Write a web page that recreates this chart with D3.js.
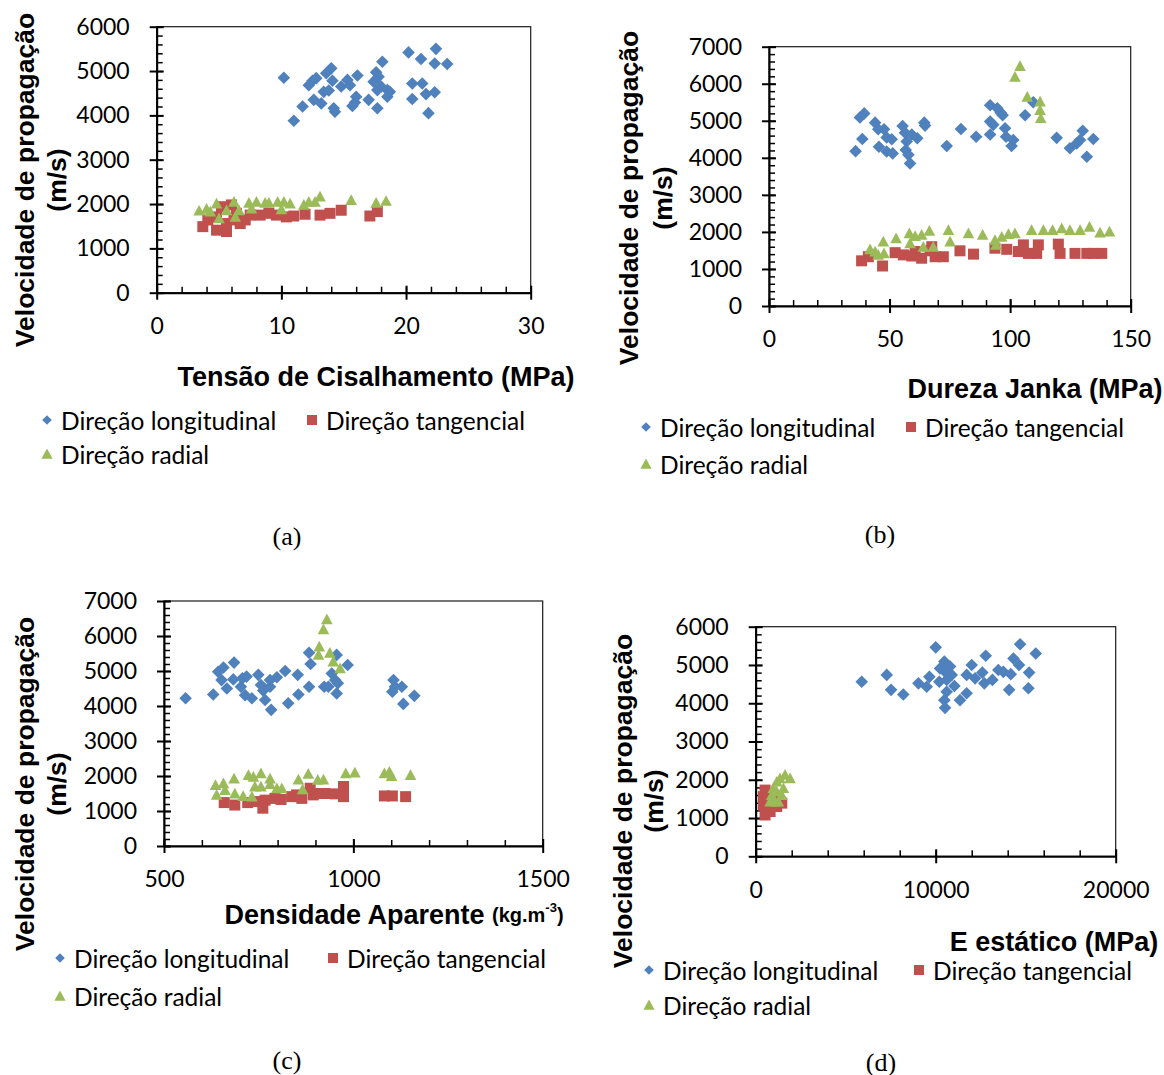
<!DOCTYPE html>
<html>
<head>
<meta charset="utf-8">
<script src="https://d3js.org/d3.v7.min.js"></script>
<style>
  body { margin: 0; background: #fff; }
  svg { display: block; }
</style>
</head>
<body>
<script>
// velocity (m/s) against four wood properties, three directions each

// (a) shear strength, MPa
const shearLong = [[10.2,4850],[11.0,3880],[11.7,4200],[12.2,4680],[12.5,4780],[12.8,4840],[12.6,4350],[13.2,4270],[13.4,4530],[13.8,4560],[13.6,4950],[14.0,5060],[14.1,4780],[14.2,4160],[14.3,4080],[14.8,4650],[15.3,4800],[15.5,4680],[16.1,4900],[16.0,4420],[15.7,4210],[15.9,4290],[17.0,4350],[17.4,4760],[17.6,4970],[17.8,4870],[18.1,5210],[17.7,4160],[18.0,4650],[18.5,4570],[18.7,4530],[18.5,4420],[17.7,4570],[20.2,5420],[20.5,4720],[20.5,4370],[21.2,5270],[21.3,4720],[21.6,4480],[21.8,4050],[22.3,5170],[22.4,5500],[22.3,4520],[23.3,5160]];
const shearTang = [[3.7,1490],[4.1,1640],[4.8,1410],[5.6,1380],[4.8,1710],[5.2,1940],[5.6,1560],[6.0,1980],[6.2,1640],[6.7,1560],[7.1,1640],[6.4,1790],[7.5,1750],[8.3,1750],[9.0,1790],[9.6,1750],[10.4,1710],[11.0,1730],[11.9,1770],[13.1,1750],[13.9,1790],[14.8,1860],[17.1,1730],[17.7,1830]];
const shearRad = [[3.4,1850],[4.0,1890],[4.3,1830],[4.8,2010],[5.0,1680],[5.6,1860],[6.2,2050],[6.3,1710],[6.6,1860],[7.4,2030],[7.6,1900],[8.0,2050],[8.7,2030],[9.0,2030],[9.7,2050],[10.0,1880],[10.2,2050],[10.7,2010],[11.8,1980],[12.2,2050],[12.7,2050],[13.1,2170],[15.6,2090],[17.6,2030],[18.4,2070]];

// (b) Janka hardness, MPa
const jankaLong = [[35.9,4180],[37.7,5090],[39.5,5200],[38.7,4510],[44.0,4950],[45.3,4770],[45.6,4300],[47.7,4770],[48.8,4550],[48.8,4170],[50.9,4500],[51.3,4120],[55.4,4860],[56.4,4680],[57.1,4440],[56.7,4210],[57.8,4080],[58.5,3850],[59.2,4630],[61.5,4530],[64.4,4950],[64.7,4870],[73.7,4320],[79.6,4780],[85.9,4570],[91.7,5420],[91.7,4980],[91.7,4630],[93.0,4890],[94.7,5340],[96.1,5220],[96.9,5150],[97.9,4800],[98.3,4570],[101.3,4480],[100.6,4320],[106.2,5150],[109.6,5500],[119.3,4540],[124.8,4260],[127.6,4390],[130.1,4730],[129.0,4480],[131.8,4030],[134.5,4510]];
const jankaTang = [[38.4,1220],[41.2,1330],[47.1,1080],[52.3,1440],[55.7,1380],[59.2,1350],[60.6,1470],[63.3,1290],[66.8,1490],[67.5,1600],[68.9,1330],[72.3,1330],[79.2,1490],[84.8,1400],[93.7,1560],[98.6,1530],[103.4,1470],[105.5,1650],[107.6,1420],[111.7,1650],[111.0,1420],[120.0,1670],[120.7,1420],[126.9,1420],[131.8,1420],[134.5,1420],[138.0,1420]];
const jankaRad = [[41.9,1530],[44.0,1470],[45.3,1380],[47.4,1740],[47.7,1420],[52.7,1830],[58.2,1960],[58.5,1690],[60.6,1890],[63.3,1920],[64.0,1600],[66.5,2030],[68.1,1600],[74.4,2050],[75.1,1740],[82.7,1960],[88.6,1920],[93.7,1780],[94.1,1650],[96.5,1870],[99.3,1940],[102.0,1960],[102.0,6190],[104.1,6480],[107.1,5650],[112.4,5520],[112.4,5290],[112.7,5070],[108.9,2050],[113.8,2050],[117.6,2050],[121.4,2100],[124.8,2050],[129.0,2050],[132.9,2140],[137.3,1980],[141.2,2010]];

// (c) apparent density, kg/m3
const densLong = [[557,4220],[630,4330],[643,4980],[657,5100],[652,4740],[666,4500],[685,5240],[683,4760],[703,4550],[707,4790],[718,4840],[714,4310],[732,4220],[749,4890],[756,4600],[762,4440],[767,4170],[780,4740],[780,4550],[783,3890],[798,4820],[820,5000],[828,4080],[853,4890],[855,4330],[883,4550],[883,5520],[887,5200],[923,4550],[934,4550],[943,4930],[952,4740],[956,5460],[956,4360],[959,4650],[985,5170],[1106,4740],[1110,4550],[1103,4410],[1128,4550],[1132,4060],[1161,4290]];
const densTang = [[659,1240],[687,1170],[721,1240],[745,1270],[761,1080],[767,1310],[793,1360],[809,1330],[837,1410],[850,1460],[864,1360],[886,1650],[894,1460],[905,1500],[925,1500],[952,1490],[974,1700],[974,1410],[1082,1430],[1103,1430],[1138,1410]];
const densRad = [[636,1740],[639,1460],[657,1790],[661,1600],[685,1930],[687,1500],[709,1430],[723,2030],[732,1410],[736,1980],[740,1700],[756,2080],[756,1700],[780,1930],[780,1770],[798,1650],[811,1650],[855,1900],[866,1620],[881,2060],[906,1890],[908,5460],[910,5700],[921,1900],[921,6190],[930,6480],[938,5520],[947,5270],[965,5080],[980,2080],[1004,2100],[1082,2080],[1095,2120],[1101,2000],[1151,2030]];

// (d) static modulus, MPa
const eLong = [[5890,4560],[7280,4740],[7520,4350],[8200,4230],[9040,4520],[9500,4430],[9650,4690],[10000,5460],[10240,4910],[10200,4560],[10480,5090],[10520,4820],[10610,4610],[10610,4300],[10480,4080],[10520,3880],[10800,4960],[10890,4740],[11040,4450],[11350,4080],[11720,4260],[12000,5000],[11720,4740],[12190,4650],[12590,4800],[12700,4520],[12780,5240],[13150,4610],[13480,4870],[13760,4820],[14080,4350],[14170,4760],[14320,5170],[14630,5000],[14690,5540],[15190,4800],[15150,4390],[15560,5300]];
const eTang = [[520,1080],[700,1170],[430,1340],[430,1560],[520,1730],[800,1170],[1170,1300],[1450,1390],[700,1470],[1260,1470],[600,1250],[900,1350]];
const eRad = [[800,1430],[890,1600],[980,1780],[1170,1950],[1350,2040],[1630,2130],[1910,2040],[1450,1600],[1260,1430],[1070,1430],[1540,1780],[1170,1690]];

const seriesNames = ["Direção longitudinal", "Direção tangencial", "Direção radial"];
const seriesColors = ["#4F81BD", "#C0504D", "#9BBB59"];

const panels = [
  { data: [shearLong, shearTang, shearRad], xDomain: [0, 30], xStep: 10, xMinor: 2, yMax: 6000,
    box: { left: 156.7, top: 26.7, right: 530.7, bottom: 292.7 },
    xTitle: "Tensão de Cisalhamento (MPa)", xTitlePos: [376, 377],
    yTitlePos: [25, 57, 180], legend: [47, 312, 420, 454], caption: ["(a)", 287, 536] },
  { data: [jankaLong, jankaTang, jankaRad], xDomain: [0, 150], xStep: 50, xMinor: 10, yMax: 7000,
    box: { left: 769, top: 46.7, right: 1130.7, bottom: 306 },
    xTitle: "Dureza Janka (MPa)", xTitlePos: [1035, 389],
    yTitlePos: [629, 663, 198], legend: [646, 911, 427, 464], caption: ["(b)", 880, 534] },
  { data: [densLong, densTang, densRad], xDomain: [500, 1500], xStep: 500, xMinor: 100, yMax: 7000,
    box: { left: 164, top: 601, right: 542.7, bottom: 846 },
    xTitle: "Densidade Aparente ", xUnit: true, xTitlePos: [394, 915],
    yTitlePos: [25, 57, 784], legend: [60, 333, 958, 996], caption: ["(c)", 287, 1060] },
  { data: [eLong, eTang, eRad], xDomain: [0, 20000], xStep: 10000, xMinor: 2000, yMax: 6000,
    box: { left: 755.7, top: 626.7, right: 1115.7, bottom: 856.3 },
    xTitle: "E estático (MPa)", xTitlePos: [1054, 942],
    yTitlePos: [623, 654, 801], legend: [649, 919, 970, 1005], caption: ["(d)", 881, 1062] }
];

const svg = d3.select("body").append("svg")
  .attr("width", 1164)
  .attr("height", 1075);

function marker(kind, s) {
  if (kind === 0) return `M0,${-s}L${s},0L0,${s}L${-s},0Z`;
  if (kind === 1) return `M${-s},${-s}H${s}V${s}H${-s}Z`;
  return `M0,${-s}L${s},${s * 0.85}L${-s},${s * 0.85}Z`;
}
const markerSize = [6.3, 5.5, 5.8];
const legendSize = [4.8, 5, 5.6];

const tickFont = "Lato, 'Open Sans', sans-serif";
const titleFont = "'Liberation Sans', Arial, sans-serif";

panels.forEach(p => {
  const b = p.box;
  const g = svg.append("g");
  const x = d3.scaleLinear().domain(p.xDomain).range([b.left, b.right]);
  const y = d3.scaleLinear().domain([0, p.yMax]).range([b.bottom, b.top]);

  // plot area frame
  g.append("rect")
    .attr("x", b.left).attr("y", b.top)
    .attr("width", b.right - b.left).attr("height", b.bottom - b.top)
    .attr("fill", "none").attr("stroke", "#1a1a1a").attr("stroke-width", 1.2);

  // minor ticks, inside
  g.append("g")
    .attr("transform", `translate(${b.left},0)`)
    .call(d3.axisLeft(y).tickValues(d3.range(0, p.yMax + 1, 200)).tickSize(-6).tickFormat("").tickSizeOuter(0))
    .call(a => a.select(".domain").remove())
    .selectAll("line").attr("stroke", "#000").attr("stroke-width", 1.5);
  g.append("g")
    .attr("transform", `translate(0,${b.bottom})`)
    .call(d3.axisBottom(x).tickValues(d3.range(p.xDomain[0], p.xDomain[1] + 1, p.xMinor)).tickSize(-6).tickFormat("").tickSizeOuter(0))
    .call(a => a.select(".domain").remove())
    .selectAll("line").attr("stroke", "#000").attr("stroke-width", 1.5);

  // major ticks cross the axis
  const yAxis = g.append("g")
    .attr("transform", `translate(${b.left},0)`)
    .call(d3.axisLeft(y).tickValues(d3.range(0, p.yMax + 1, 1000)).tickFormat(d3.format("d"))
      .tickSize(7).tickPadding(20).tickSizeOuter(0));
  const xAxis = g.append("g")
    .attr("transform", `translate(0,${b.bottom})`)
    .call(d3.axisBottom(x).tickValues(d3.range(p.xDomain[0], p.xDomain[1] + 1, p.xStep)).tickFormat(d3.format("d"))
      .tickSize(7).tickPadding(18).tickSizeOuter(0));
  yAxis.selectAll(".tick line").attr("x1", 7);
  xAxis.selectAll(".tick line").attr("y1", -7);
  [yAxis, xAxis].forEach(a => {
    a.select(".domain").attr("stroke", "#000").attr("stroke-width", 2);
    a.selectAll(".tick line").attr("stroke", "#000").attr("stroke-width", 2);
    a.selectAll("text").attr("font-family", tickFont).attr("font-size", 23).attr("fill", "#000");
  });

  // points, radial drawn last like the original
  p.data.forEach((series, i) => {
    g.append("g").selectAll("path")
      .data(series)
      .join("path")
        .attr("transform", d => `translate(${x(d[0])},${y(d[1])})`)
        .attr("d", marker(i, markerSize[i]))
        .attr("fill", seriesColors[i]);
  });

  // x title
  const xt = g.append("text")
    .attr("x", p.xTitlePos[0]).attr("y", p.xTitlePos[1])
    .attr("text-anchor", "middle").attr("dominant-baseline", "central")
    .attr("font-family", titleFont).attr("font-weight", "bold").attr("font-size", 27)
    .text(p.xTitle);
  if (p.xUnit) {
    xt.append("tspan").attr("font-size", 20).text("(kg.m");
    xt.append("tspan").attr("font-size", 13).attr("dy", -8).text("-3");
    xt.append("tspan").attr("font-size", 20).attr("dy", 8).text(")");
  }

  // y title, two lines
  const [yx1, yx2, yc] = p.yTitlePos;
  [["Velocidade de propagação", yx1], ["(m/s)", yx2]].forEach(([t, px]) => {
    g.append("text")
      .attr("transform", `translate(${px},${yc}) rotate(-90)`)
      .attr("text-anchor", "middle").attr("dominant-baseline", "central")
      .attr("font-family", titleFont).attr("font-weight", "bold").attr("font-size", 26.5)
      .text(t);
  });

  // legend
  const [lx1, lx2, ly1, ly2] = p.legend;
  const spots = [[lx1, ly1], [lx2, ly1], [lx1, ly2]];
  seriesNames.forEach((name, i) => {
    const [mx, my] = spots[i];
    g.append("path")
      .attr("transform", `translate(${mx},${my})`)
      .attr("d", marker(i, legendSize[i]))
      .attr("fill", seriesColors[i]);
    g.append("text")
      .attr("x", mx + 14).attr("y", my)
      .attr("dominant-baseline", "central")
      .attr("font-family", tickFont).attr("font-size", 24.5)
      .text(name);
  });

  // caption
  g.append("text")
    .attr("x", p.caption[1]).attr("y", p.caption[2])
    .attr("text-anchor", "middle").attr("dominant-baseline", "central")
    .attr("font-family", "'Liberation Serif', 'Times New Roman', serif").attr("font-size", 26)
    .text(p.caption[0]);
});
</script>
</body>
</html>
